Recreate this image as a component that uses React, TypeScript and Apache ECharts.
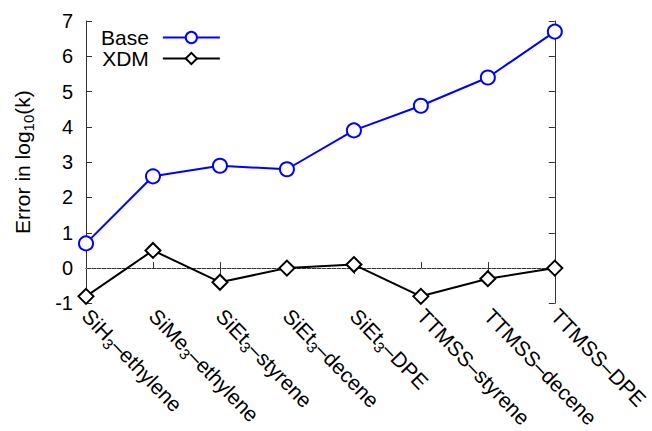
import React, { useEffect, useRef } from "react";
import * as echarts from "echarts";

const categories = [
  "SiH3-ethylene",
  "SiMe3-ethylene",
  "SiEt3-styrene",
  "SiEt3-decene",
  "SiEt3-DPE",
  "TTMSS-styrene",
  "TTMSS-decene",
  "TTMSS-DPE",
];
const baseValues = [0.7, 2.6, 2.9, 2.8, 3.9, 4.6, 5.4, 6.7];
const xdmValues = [-0.8, 0.5, -0.4, 0.0, 0.1, -0.8, -0.3, 0.0];
const seriesNames = ["Base", "XDM"];
const yTicks = { min: -1, max: 7, interval: 1 };

const FONT = "Liberation Sans, Arial, Helvetica, sans-serif";
const AXIS_COLOR = "#333";

function fmtCategory(s: string): string {
  const m = s.match(/^([A-Za-z]+)3-(.*)$/);
  if (m) return "{n|" + m[1] + "}{s|3}{n|–" + m[2] + "}";
  return "{n|" + s.replace(/-/g, "–") + "}";
}

export default function App() {
  const ref = useRef<HTMLDivElement>(null);
  useEffect(() => {
    if (!ref.current) return;
    const chart = echarts.init(ref.current, null, { renderer: "svg" });
    const rich = {
      n: { fontSize: 21, fontFamily: FONT, color: "#000", lineHeight: 23 },
      s: { fontSize: 15, fontFamily: FONT, color: "#000", lineHeight: 15, padding: [12, 0, 0, 0] },
    };
    chart.setOption({
      animation: false,
      backgroundColor: "#fff",
      textStyle: { fontFamily: FONT },
      grid: { left: 86, right: 96, top: 21, bottom: 125, containLabel: false },
      legend: {
        orient: "vertical",
        left: 96,
        top: 22,
        align: "right",
        itemWidth: 57,
        itemHeight: 14,
        itemGap: 0,
        data: seriesNames,
        textStyle: { fontSize: 21, fontFamily: FONT, color: "#000", padding: [0, 9, 0, 0] },
      },
      xAxis: [
        {
          type: "category",
          data: categories,
          boundaryGap: false,
          position: "bottom",
          axisLine: { lineStyle: { color: AXIS_COLOR, width: 1 } },
          axisTick: { inside: true, length: 6, lineStyle: { color: AXIS_COLOR } },
          axisLabel: {
            rotate: -46,
            margin: 9,
            interval: 0,
            color: "#000",
            fontSize: 21,
            fontFamily: FONT,
            formatter: (v: string) => fmtCategory(v),
            rich,
          },
          splitLine: { show: false },
        },
        {
          type: "category",
          data: categories,
          boundaryGap: false,
          position: "top",
          axisLine: { lineStyle: { color: AXIS_COLOR, width: 1 } },
          axisTick: { inside: true, length: 6, lineStyle: { color: AXIS_COLOR } },
          axisLabel: { show: false },
          splitLine: { show: false },
        },
      ],
      yAxis: [
        {
          type: "value",
          min: yTicks.min,
          max: yTicks.max,
          interval: yTicks.interval,
          position: "left",
          axisLine: { show: true, lineStyle: { color: AXIS_COLOR, width: 1 } },
          axisTick: { show: true, inside: true, length: 6, lineStyle: { color: AXIS_COLOR } },
          axisLabel: { color: "#000", fontSize: 20, fontFamily: FONT, margin: 13 },
          splitLine: { show: false },
          name: "{n|Error in log}{s|10}{n|(k)}",
          nameLocation: "middle",
          nameRotate: 90,
          nameGap: 52,
          nameTextStyle: { rich },
        },
        {
          type: "value",
          min: yTicks.min,
          max: yTicks.max,
          interval: yTicks.interval,
          position: "right",
          axisLine: { show: true, lineStyle: { color: AXIS_COLOR, width: 1 } },
          axisTick: { show: true, inside: true, length: 6, lineStyle: { color: AXIS_COLOR } },
          axisLabel: { show: false },
          splitLine: { show: false },
        },
      ],
      series: [
        {
          name: seriesNames[0],
          type: "line",
          data: baseValues,
          symbol: "emptyCircle",
          symbolSize: 14,
          color: "#0000ff",
          lineStyle: { color: "#0000ff", width: 2 },
          itemStyle: { color: "#0000ff", borderWidth: 2 },
          z: 3,
        },
        {
          name: seriesNames[1],
          type: "line",
          data: xdmValues,
          symbol: "emptyDiamond",
          symbolSize: 15,
          color: "#000",
          lineStyle: { color: "#000", width: 2 },
          itemStyle: { color: "#000", borderWidth: 2 },
          z: 3,
          markLine: {
            silent: true,
            symbol: "none",
            label: { show: false },
            lineStyle: { type: [1, 4], color: "#999", width: 1 },
            data: [{ yAxis: 0 }],
            z: 1,
          },
        },
      ],
    });
    return () => chart.dispose();
  }, []);
  return (
    <div
      ref={ref}
      style={{ position: "fixed", left: 0, top: 0, width: 652, height: 431 }}
    />
  );
}
